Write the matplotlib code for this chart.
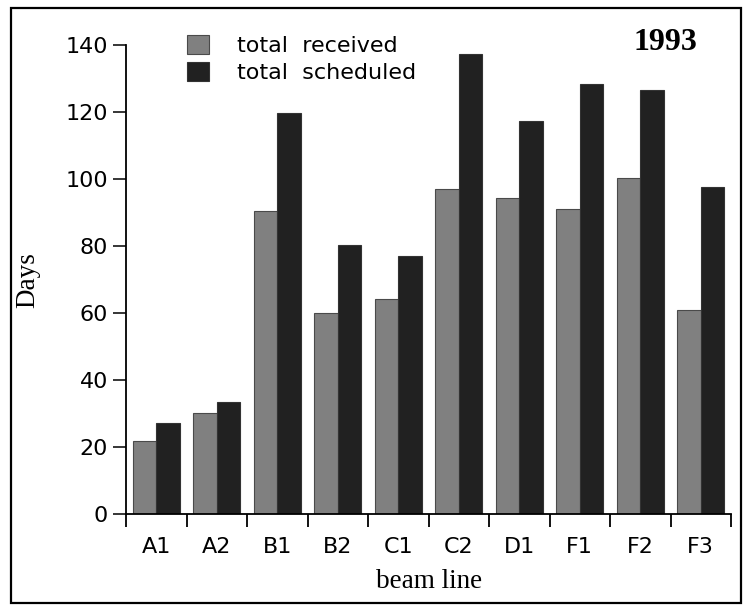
import numpy as np
import matplotlib
matplotlib.use("Agg")
import matplotlib.pyplot as plt
from matplotlib.patches import Rectangle

# beam time per beam line, 1993
beam_lines = ["A1", "A2", "B1", "B2", "C1", "C2", "D1", "F1", "F2", "F3"]
received = [21.9, 30.2, 90.5, 60.1, 64.3, 97.1, 94.4, 91.1, 100.4, 60.9]
scheduled = [27.3, 33.5, 119.7, 80.5, 77.1, 137.4, 117.4, 128.4, 126.7, 97.7]
y_ticks = [0, 20, 40, 60, 80, 100, 120, 140]

W, H = 748, 606
fig = plt.figure(figsize=(W / 100, H / 100), dpi=100)
ax = fig.add_axes([126 / W, 1 - 514.3 / H, 605 / W, 469 / H])

sans = "DejaVu Sans"
serif = "Liberation Serif"

x = np.arange(len(beam_lines)) + 0.5
bw = 0.39
ax.bar(x - bw / 2, received, bw, color="#808080", edgecolor="#4a4a4a",
       linewidth=0.8, label="total  received")
ax.bar(x + bw / 2, scheduled, bw, color="#212121", edgecolor="#333333",
       linewidth=0.8, label="total  scheduled")

ax.set_xlim(0, len(beam_lines))
ax.set_ylim(0, 140)
for s in ("top", "right"):
    ax.spines[s].set_visible(False)
for s in ("left", "bottom"):
    ax.spines[s].set_linewidth(1.3)

ax.set_yticks(y_ticks)
ax.set_yticklabels([str(v) for v in y_ticks], fontfamily=sans, fontsize=16)
ax.tick_params(axis="y", direction="out", length=9.5, width=1.1, pad=3.5)

# category names sit between the boundary ticks
ax.set_xticks(x)
ax.set_xticklabels(beam_lines, fontfamily=sans, fontsize=16)
ax.set_xticks(np.arange(len(beam_lines) + 1), minor=True)
ax.tick_params(axis="x", which="major", length=0, pad=16)
ax.tick_params(axis="x", which="minor", direction="out", length=9, width=1.3)

fig.text(28 / W, 1 - 280 / H, "Days", rotation=90, ha="center", va="center",
         fontfamily=serif, fontsize=19.5)
fig.text(429 / W, 1 - 582 / H, "beam line", ha="center", va="center",
         fontfamily=serif, fontsize=19.5)
fig.text(665 / W, 1 - 42 / H, "1993", ha="center", va="center",
         fontfamily=serif, fontsize=23, fontweight="bold")

leg = ax.legend(loc="upper left", bbox_to_anchor=((187 - 126) / 605, (514.3 - 35) / 469),
                frameon=False, borderpad=0, borderaxespad=0, handlelength=1.0,
                handleheight=0.95, handletextpad=1.25, labelspacing=0.25,
                prop={"family": sans, "size": 16})

# outer frame around the whole chart
fig.add_artist(Rectangle((11 / W, 1 - 603 / H), 730 / W, 595 / H,
                         transform=fig.transFigure, fill=False,
                         edgecolor="black", linewidth=1.6))

fig.savefig("out.png", dpi=100)
